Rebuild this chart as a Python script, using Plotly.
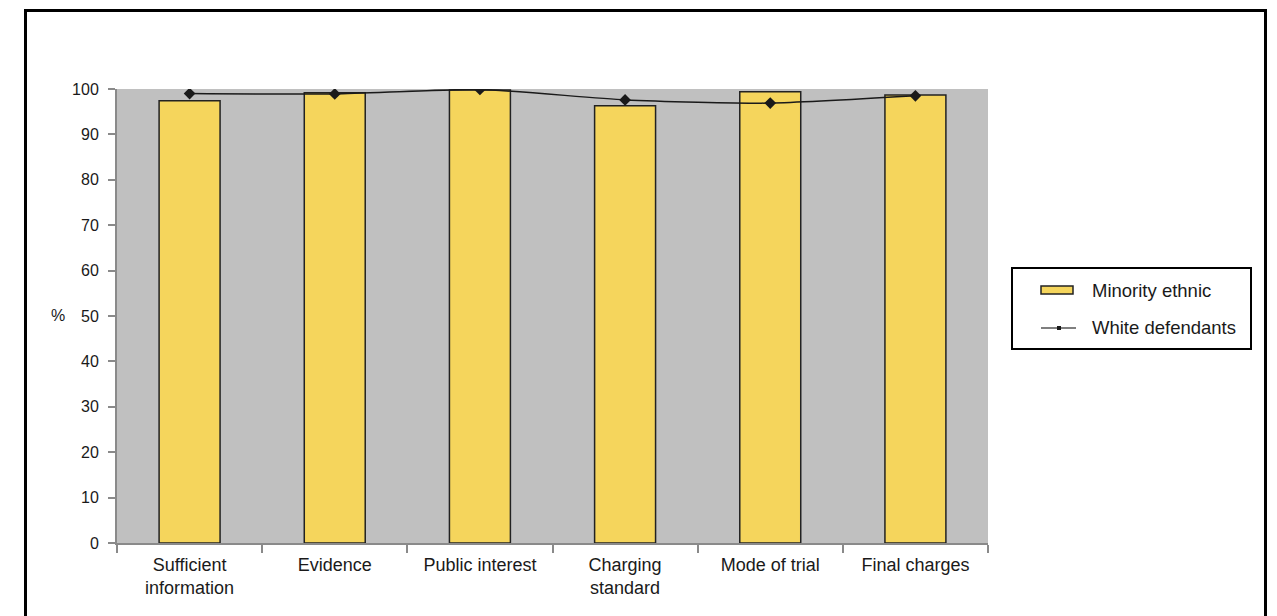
import plotly.graph_objects as go

# Stage of the charging decision
categories = [
    "Sufficient<br>information",
    "Evidence",
    "Public interest",
    "Charging<br>standard",
    "Mode of trial",
    "Final charges",
]
# Percentages by defendant group
minority_ethnic = [97.4, 99.2, 99.8, 96.3, 99.4, 98.7]
white_defendants = [99.0, 98.9, 99.9, 97.6, 96.9, 98.5]
series_names = ["Minority ethnic", "White defendants"]

W, H = 1277, 616
L, R, T, B = 117, 988, 89, 543  # plot area edges in pixels
pw, ph = R - L, B - T

BAR_COLOR = "#F5D55C"
INK = "#1a1a1a"
AXIS = "#8a8a8a"


def px_x(x):
    return (x - L) / pw


def px_y(y):
    return (B - y) / ph


fig = go.Figure()
fig.add_trace(go.Bar(
    x=categories, y=minority_ethnic, name=series_names[0],
    marker=dict(color=BAR_COLOR, line=dict(color="#222222", width=1.5)),
    width=0.42,
))
fig.add_trace(go.Scatter(
    x=categories, y=white_defendants, name=series_names[1],
    mode="lines+markers",
    line=dict(color=INK, width=1.5, shape="spline", smoothing=0.6),
    marker=dict(symbol="diamond", size=9, color=INK),
))

family = "Liberation Sans, Arial, sans-serif"
tick_font = dict(family=family, size=16, color=INK)
label_font = dict(family=family, size=18, color=INK)

# Hand-drawn legend box on the right
lg_x0, lg_x1, lg_y0, lg_y1 = 1012, 1251, 268, 349
shapes = [
    dict(type="rect", xref="paper", yref="paper",
         x0=px_x(25.5), x1=px_x(1265.5), y0=px_y(640), y1=px_y(10.5),
         line=dict(color="black", width=3), layer="above"),
    dict(type="rect", xref="paper", yref="paper",
         x0=px_x(lg_x0), x1=px_x(lg_x1), y0=px_y(lg_y1), y1=px_y(lg_y0),
         line=dict(color="black", width=2), fillcolor="white", layer="above"),
    dict(type="rect", xref="paper", yref="paper",
         x0=px_x(1041), x1=px_x(1073), y0=px_y(294), y1=px_y(286),
         line=dict(color="#222222", width=1.5), fillcolor=BAR_COLOR, layer="above"),
    dict(type="line", xref="paper", yref="paper",
         x0=px_x(1041), x1=px_x(1076), y0=px_y(328), y1=px_y(328),
         line=dict(color="#555555", width=1.5), layer="above"),
    dict(type="rect", xref="paper", yref="paper",
         x0=px_x(1057), x1=px_x(1061), y0=px_y(330), y1=px_y(326),
         line=dict(color=INK, width=0), fillcolor=INK, layer="above"),
]

annotations = [
    dict(text="%", x=px_x(58), y=px_y(315), xref="paper", yref="paper",
         showarrow=False, font=tick_font, xanchor="center", yanchor="middle"),
    dict(text=series_names[0], x=px_x(1090), y=px_y(290), xref="paper", yref="paper",
         showarrow=False, font=dict(family=family, size=18.5, color=INK),
         xanchor="left", yanchor="middle"),
    dict(text=series_names[1], x=px_x(1090), y=px_y(327), xref="paper", yref="paper",
         showarrow=False, font=dict(family=family, size=18.5, color=INK),
         xanchor="left", yanchor="middle"),
]

fig.update_layout(
    width=W, height=H, autosize=False,
    margin=dict(l=L, r=W - R, t=T, b=H - B, pad=0),
    paper_bgcolor="white", plot_bgcolor="#C0C0C0",
    font=tick_font,
    showlegend=False,
    xaxis=dict(
        type="category", showgrid=False, zeroline=False,
        showline=True, linecolor=AXIS, linewidth=2,
        ticks="outside", tickson="boundaries", ticklen=8, tickcolor=AXIS, tickwidth=2,
        ticklabelstandoff=4,
        tickfont=label_font,
    ),
    yaxis=dict(
        range=[0, 100], tickvals=list(range(0, 101, 10)),
        showgrid=False, zeroline=False,
        showline=True, linecolor=AXIS, linewidth=2,
        ticks="outside", ticklen=7, tickcolor=AXIS, tickwidth=2,
        ticklabelstandoff=6,
        tickfont=tick_font,
    ),
    annotations=annotations,
    shapes=shapes,
)

fig.write_html("out.html")
